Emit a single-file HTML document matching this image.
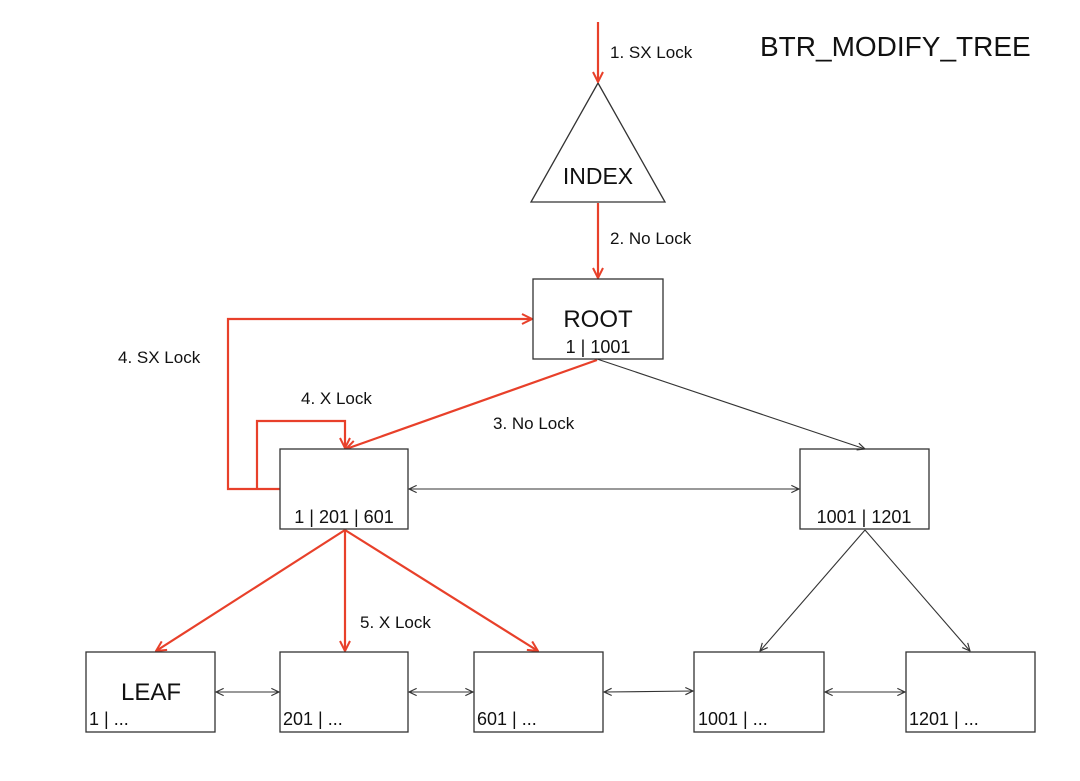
<!DOCTYPE html>
<html><head><meta charset="utf-8"><style>
html,body{margin:0;padding:0;background:#fff;}
svg{display:block;}
text{font-family:"Liberation Sans","DejaVu Sans",sans-serif;fill:#111;}
</style></head><body>
<svg width="1080" height="781" viewBox="0 0 1080 781" xmlns="http://www.w3.org/2000/svg">
<defs>
<marker id="r" viewBox="0 0 12 12" refX="11" refY="6" markerWidth="12" markerHeight="12" markerUnits="userSpaceOnUse" orient="auto"><path d="M1,1 L11,6 L1,11" fill="none" stroke="#e8402a" stroke-width="2"/></marker>
<marker id="k" viewBox="0 0 10 10" refX="9.5" refY="5" markerWidth="9" markerHeight="9" markerUnits="userSpaceOnUse" orient="auto"><path d="M1,1 L9.5,5 L1,9" fill="none" stroke="#333" stroke-width="1.3"/></marker>
<marker id="ks" viewBox="0 0 10 10" refX="0.5" refY="5" markerWidth="9" markerHeight="9" markerUnits="userSpaceOnUse" orient="auto"><path d="M9,1 L0.5,5 L9,9" fill="none" stroke="#333" stroke-width="1.3"/></marker>
</defs>

<text x="760" y="56" font-size="28">BTR_MODIFY_TREE</text>

<polygon points="598,83 531,202 665,202" fill="#fff" stroke="#333" stroke-width="1.3"/>
<text x="598" y="184" font-size="23" text-anchor="middle">INDEX</text>

<g stroke="#e8402a" stroke-width="2.2" fill="none">
<line x1="598" y1="22" x2="598" y2="82" marker-end="url(#r)"/>
<line x1="598" y1="203" x2="598" y2="278" marker-end="url(#r)"/>
<line x1="597" y1="360" x2="346" y2="449" marker-end="url(#r)"/>
<polyline points="280,489 228,489 228,319 532,319" marker-end="url(#r)"/>
<polyline points="257,489 257,421 345,421 345,448" marker-end="url(#r)"/>
<line x1="345" y1="530" x2="156" y2="651" marker-end="url(#r)"/>
<line x1="345" y1="530" x2="345" y2="651" marker-end="url(#r)"/>
<line x1="345" y1="530" x2="538" y2="651" marker-end="url(#r)"/>
</g>

<text x="610" y="58" font-size="17">1. SX Lock</text>
<text x="610" y="244" font-size="17">2. No Lock</text>
<text x="118" y="363" font-size="17">4. SX Lock</text>
<text x="301" y="404" font-size="17">4. X Lock</text>
<text x="493" y="429" font-size="17">3. No Lock</text>
<text x="360" y="628" font-size="17">5. X Lock</text>

<g fill="#fff" stroke="#333" stroke-width="1.3">
<rect x="533" y="279" width="130" height="80"/>
<rect x="280" y="449" width="128" height="80"/>
<rect x="800" y="449" width="129" height="80"/>
<rect x="86" y="652" width="129" height="80"/>
<rect x="280" y="652" width="128" height="80"/>
<rect x="474" y="652" width="129" height="80"/>
<rect x="694" y="652" width="130" height="80"/>
<rect x="906" y="652" width="129" height="80"/>
</g>

<g stroke="#333" stroke-width="1.1" fill="none">
<line x1="597" y1="359" x2="865" y2="449" marker-end="url(#k)"/>
<line x1="409" y1="489" x2="799" y2="489" marker-start="url(#ks)" marker-end="url(#k)"/>
<line x1="865" y1="530" x2="760" y2="651" marker-end="url(#k)"/>
<line x1="865" y1="530" x2="970" y2="651" marker-end="url(#k)"/>
<line x1="216" y1="692" x2="279" y2="692" marker-start="url(#ks)" marker-end="url(#k)"/>
<line x1="409" y1="692" x2="473" y2="692" marker-start="url(#ks)" marker-end="url(#k)"/>
<line x1="604" y1="692" x2="693" y2="691" marker-start="url(#ks)" marker-end="url(#k)"/>
<line x1="825" y1="692" x2="905" y2="692" marker-start="url(#ks)" marker-end="url(#k)"/>
</g>

<text x="598" y="327" font-size="24" text-anchor="middle">ROOT</text>
<text x="598" y="353" font-size="18" text-anchor="middle">1 | 1001</text>
<text x="344" y="523" font-size="18" text-anchor="middle">1 | 201 | 601</text>
<text x="864" y="523" font-size="18" text-anchor="middle">1001 | 1201</text>
<text x="151" y="700" font-size="24" text-anchor="middle">LEAF</text>
<text x="89" y="725" font-size="18">1 | ...</text>
<text x="283" y="725" font-size="18">201 | ...</text>
<text x="477" y="725" font-size="18">601 | ...</text>
<text x="698" y="725" font-size="18">1001 | ...</text>
<text x="909" y="725" font-size="18">1201 | ...</text>
</svg>
</body></html>
